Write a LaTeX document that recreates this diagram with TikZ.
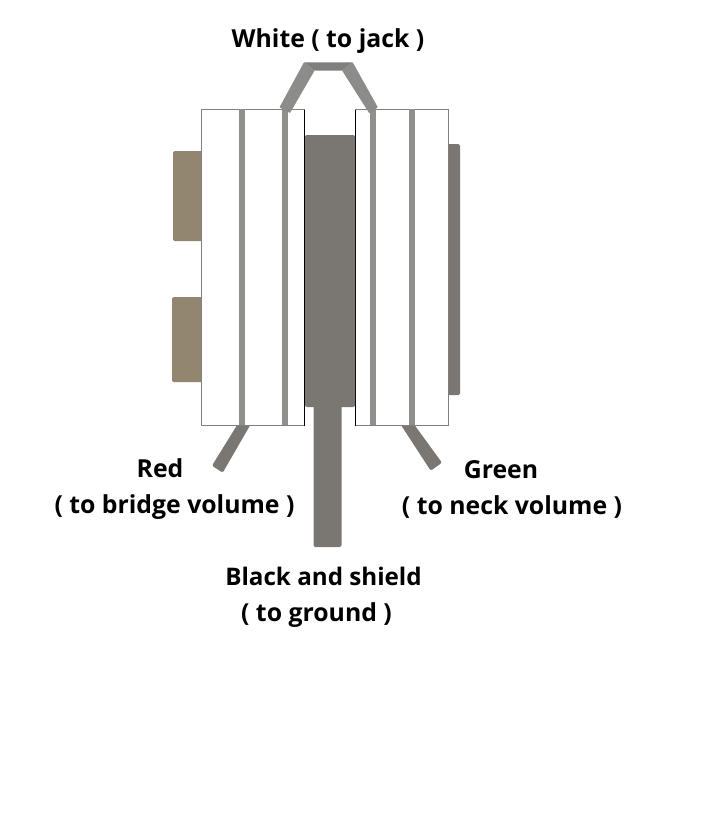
\documentclass[tikz,border=0pt]{standalone}
\usepackage{fontspec}
\setmainfont{Open Sans}
\tikzset{
  label text/.style={font=\fontsize{24.8}{28}\selectfont\bfseries, text=black, inner sep=0pt, anchor=base},
  tab/.style={rounded corners=1.5pt},
  wire/.style={line width=6pt, draw=stripegray},
  lead/.style={fill=darkgray, rounded corners=2pt},
  jumper/.style={fill=jumpgray, rounded corners=0.5pt},
}
\definecolor{stripegray}{HTML}{8F908C}
\definecolor{darkgray}{HTML}{7A7772}
\definecolor{tabbrown}{HTML}{938671}
\definecolor{topgray}{HTML}{7F7F7F}
\definecolor{jumpgray}{HTML}{8C8D8A}
\begin{document}
\begin{tikzpicture}[x=1pt, y=-1pt]
  \useasboundingbox (0,0) rectangle (712,820);
  \fill[white] (0,0) rectangle (712,820);

  \fill[tabbrown, tab] (173,151) rectangle (206,241);
  \fill[tabbrown, tab] (172,297) rectangle (206,382);
  \fill[darkgray, tab] (444,144) rectangle (460,395);

  \fill[lead] (243.3,415) -- (256,415) -- (222.7,472.7) -- (212,465.7) -- cycle;
  \fill[lead] (394.5,415) -- (407.2,415) -- (442,462.7) -- (430.7,470.7) -- cycle;

  \draw[line width=1pt, draw=gray, fill=white] (201.5,109.5) rectangle (304.5,425.5);
  \draw[line width=1pt, draw=gray, fill=white] (355.5,109.5) rectangle (448.5,425.5);
  \draw[line width=1pt, black] (304.5,109.5) -- (304.5,425.5);
  \draw[line width=1pt, black] (355.5,109.5) -- (355.5,425.5);

  \foreach \x in {242,285,373,412}{
    \draw[wire] (\x,109) -- (\x,425);
  }

  \fill[jumper] (304,62.3) -- (314.5,70.7) -- (290,113) -- (279.5,107.3) -- cycle;
  \fill[jumper] (352.7,62.3) -- (342.2,70.7) -- (369.3,113.3) -- (377.8,107.3) -- cycle;
  \fill[topgray] (304,62.3) -- (352.7,62.3) -- (342.2,70.7) -- (314.5,70.7) -- cycle;

  \fill[darkgray, rounded corners=2pt] (305,135) rectangle (355,407);
  \fill[darkgray, rounded corners=2pt] (313.5,400) rectangle (341.5,547);

  \node[label text] (white) at (328,47) {White ( to jack )};
  \node[label text] (red) at (160,477) {Red};
  \node[label text] (bridge) at (174.5,513) {( to bridge volume )};
  \node[label text] (green) at (501,478) {Green};
  \node[label text] (neck) at (512,514) {( to neck volume )};
  \node[label text, font=\fontsize{24.2}{28}\selectfont\bfseries] (black) at (323.5,585) {Black and shield};
  \node[label text] (ground) at (316.5,621) {( to ground )};
\end{tikzpicture}
\end{document}
